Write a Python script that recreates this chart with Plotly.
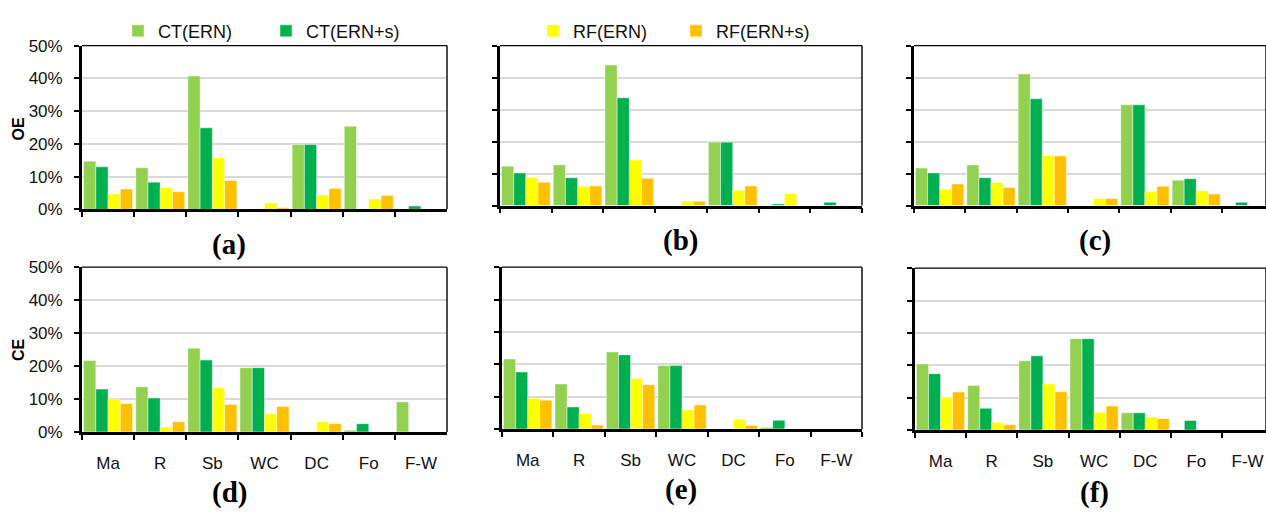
import plotly.graph_objects as go

W, H = 1266, 518

categories = ["Ma", "R", "Sb", "WC", "DC", "Fo", "F-W"]
series_names = ["CT(ERN)", "CT(ERN+s)", "RF(ERN)", "RF(ERN+s)"]
y_ticks = [0, 10, 20, 30, 40, 50]
y_tick_text = ["0%", "10%", "20%", "30%", "40%", "50%"]

# OE (top row), values in %
a_ct_ern = [14.7, 12.7, 40.7, 0.0, 19.8, 25.4, 0.0]
a_ct_erns = [13.0, 8.3, 24.9, 0.0, 19.8, 0.0, 1.0]
a_rf_ern = [4.7, 6.7, 15.7, 2.0, 4.4, 3.2, 0.0]
a_rf_erns = [6.2, 5.4, 8.8, 0.5, 6.4, 4.2, 0.0]

b_ct_ern = [12.3, 12.7, 43.9, 0.0, 19.8, 0.0, 0.0]
b_ct_erns = [10.2, 8.7, 33.7, 0.0, 19.8, 0.5, 1.0]
b_rf_ern = [8.8, 6.0, 14.2, 1.3, 4.8, 3.7, 0.0]
b_rf_erns = [7.3, 6.1, 8.5, 1.3, 6.1, 0.0, 0.0]

c_ct_ern = [11.7, 12.7, 41.1, 0.0, 31.5, 7.9, 0.0]
c_ct_erns = [10.2, 8.7, 33.4, 0.0, 31.5, 8.4, 1.0]
c_rf_ern = [5.1, 7.2, 15.6, 2.2, 4.4, 4.6, 0.0]
c_rf_erns = [6.7, 5.6, 15.5, 2.2, 6.0, 3.6, 0.0]

# CE (bottom row), values in %
d_ct_ern = [21.7, 13.7, 25.4, 19.5, 0.0, 0.5, 9.1]
d_ct_erns = [13.0, 10.3, 21.8, 19.5, 0.0, 2.5, 0.0]
d_rf_ern = [10.0, 1.5, 13.5, 5.5, 3.1, 0.0, 0.0]
d_rf_erns = [8.6, 3.1, 8.3, 7.7, 2.5, 0.0, 0.0]

e_ct_ern = [21.6, 13.9, 23.8, 19.6, 0.0, 0.5, 0.0]
e_ct_erns = [17.6, 6.8, 22.9, 19.6, 0.0, 2.7, 0.0]
e_rf_ern = [9.5, 4.8, 15.6, 5.9, 3.0, 0.0, 0.0]
e_rf_erns = [8.9, 1.2, 13.7, 7.4, 1.1, 0.0, 0.0]

f_ct_ern = [20.4, 13.7, 21.4, 28.2, 5.3, 0.0, 0.0]
f_ct_erns = [17.4, 6.7, 22.9, 28.2, 5.3, 2.9, 0.0]
f_rf_ern = [10.1, 2.3, 14.2, 5.5, 4.0, 0.0, 0.0]
f_rf_erns = [11.7, 1.6, 11.8, 7.4, 3.5, 0.0, 0.0]

colors = ["#92D050", "#00B050", "#FFFF00", "#FFC000"]


def px(x):
    return x / W


def py(y):
    return 1 - y / H


panels = [
    dict(label="(a)", vals=[a_ct_ern, a_ct_erns, a_rf_ern, a_rf_erns],
         xd=(82, 447), yd=(38, 208), xend=6.5, ylab=True, xlab=False, lab=(229, 244)),
    dict(label="(b)", vals=[b_ct_ern, b_ct_erns, b_rf_ern, b_rf_erns],
         xd=(500, 862), yd=(38, 204), xend=6.5, ylab=False, xlab=False, lab=(681, 240)),
    dict(label="(c)", vals=[c_ct_ern, c_ct_erns, c_rf_ern, c_rf_erns],
         xd=(914, 1266), yd=(38, 204), xend=6.36, ylab=False, xlab=False, lab=(1095, 240)),
    dict(label="(d)", vals=[d_ct_ern, d_ct_erns, d_rf_ern, d_rf_erns],
         xd=(82, 447), yd=(268, 439), xend=6.5, ylab=True, xlab=True, lab=(229, 502)),
    dict(label="(e)", vals=[e_ct_ern, e_ct_erns, e_rf_ern, e_rf_erns],
         xd=(502, 862), yd=(268, 436), xend=6.5, ylab=False, xlab=True, lab=(681, 499)),
    dict(label="(f)", vals=[f_ct_ern, f_ct_erns, f_rf_ern, f_rf_erns],
         xd=(915, 1266), yd=(269, 437), xend=6.36, ylab=False, xlab=True, lab=(1094, 502)),
]

fig = go.Figure()
layout = {}
annotations = []
shapes = []
FONT = "Arial, Liberation Sans, sans-serif"

for i, p in enumerate(panels):
    n = i + 1
    xa = "x" if n == 1 else f"x{n}"
    ya = "y" if n == 1 else f"y{n}"
    for s, (name, vals, col) in enumerate(zip(series_names, p["vals"], colors)):
        show = (i == 0 and s < 2) or (i == 1 and s >= 2)
        fig.add_trace(go.Bar(
            x=categories, y=vals, name=name, xaxis=xa, yaxis=ya,
            marker=dict(color=col, line=dict(color="rgba(255,255,255,0.55)", width=0.8)),
            showlegend=show, legend="legend" if s < 2 else "legend2",
        ))
    layout["xaxis" if n == 1 else f"xaxis{n}"] = dict(
        domain=[px(p["xd"][0]), px(p["xd"][1])], anchor=ya,
        type="category", range=[-0.5, p["xend"]],
        showline=True, linecolor="black", linewidth=2.8,
        ticks="outside", tickson="boundaries", ticklen=5, tickwidth=2, tickcolor="black",
        showticklabels=p["xlab"], tickfont=dict(family=FONT, size=17, color="#111111"),
        ticklabelstandoff=14, showgrid=False, zeroline=False, fixedrange=True,
    )
    layout["yaxis" if n == 1 else f"yaxis{n}"] = dict(
        domain=[py(p["yd"][1]), py(p["yd"][0])], anchor=xa,
        range=[0, 50], tickmode="array", tickvals=y_ticks, ticktext=y_tick_text,
        showline=True, linecolor="black", linewidth=2.8,
        ticks="outside", ticklen=5, tickwidth=2, tickcolor="black",
        showticklabels=p["ylab"], tickfont=dict(family=FONT, size=17, color="#111111"),
        ticklabelstandoff=8,
        showgrid=True, gridcolor="#D9D9D9", gridwidth=1.5, zeroline=False, fixedrange=True,
    )
    # top and right frame of each plot area
    shapes.append(dict(type="line", xref=f"{xa} domain", yref=f"{ya} domain",
                       x0=0, x1=1, y0=1, y1=1, line=dict(color="black", width=1.4)))
    shapes.append(dict(type="line", xref=f"{xa} domain", yref=f"{ya} domain",
                       x0=1, x1=1, y0=0, y1=1, line=dict(color="black", width=1.4)))
    annotations.append(dict(text=f"<b>{p['label']}</b>", x=px(p["lab"][0]), y=py(p["lab"][1]),
                            xref="paper", yref="paper", showarrow=False,
                            xanchor="center", yanchor="middle",
                            font=dict(family="Liberation Serif, Times New Roman, serif",
                                      size=29, color="black")))

annotations.append(dict(text="<b>OE</b>", x=px(18), y=py(125), xref="paper", yref="paper",
                        showarrow=False, textangle=-90, xanchor="center", yanchor="middle",
                        font=dict(family=FONT, size=16, color="black")))
annotations.append(dict(text="<b>CE</b>", x=px(18), y=py(354), xref="paper", yref="paper",
                        showarrow=False, textangle=-90, xanchor="center", yanchor="middle",
                        font=dict(family=FONT, size=16, color="black")))

fig.update_layout(
    width=W, height=H, autosize=False,
    margin=dict(l=0, r=0, t=0, b=0),
    paper_bgcolor="white", plot_bgcolor="white",
    barmode="group", bargap=0.06, bargroupgap=0,
    legend=dict(orientation="h", x=px(118), y=py(23), xanchor="left", yanchor="middle",
                font=dict(family=FONT, size=18, color="#111111"),
                itemwidth=30, entrywidth=103, bgcolor="rgba(0,0,0,0)"),
    legend2=dict(orientation="h", x=px(533), y=py(23), xanchor="left", yanchor="middle",
                 font=dict(family=FONT, size=18, color="#111111"),
                 itemwidth=30, entrywidth=98, bgcolor="rgba(0,0,0,0)"),
    annotations=annotations, shapes=shapes,
    **layout,
)

fig.write_html("out.html", config={"displayModeBar": False},
               post_script="document.body.style.margin='0';")
